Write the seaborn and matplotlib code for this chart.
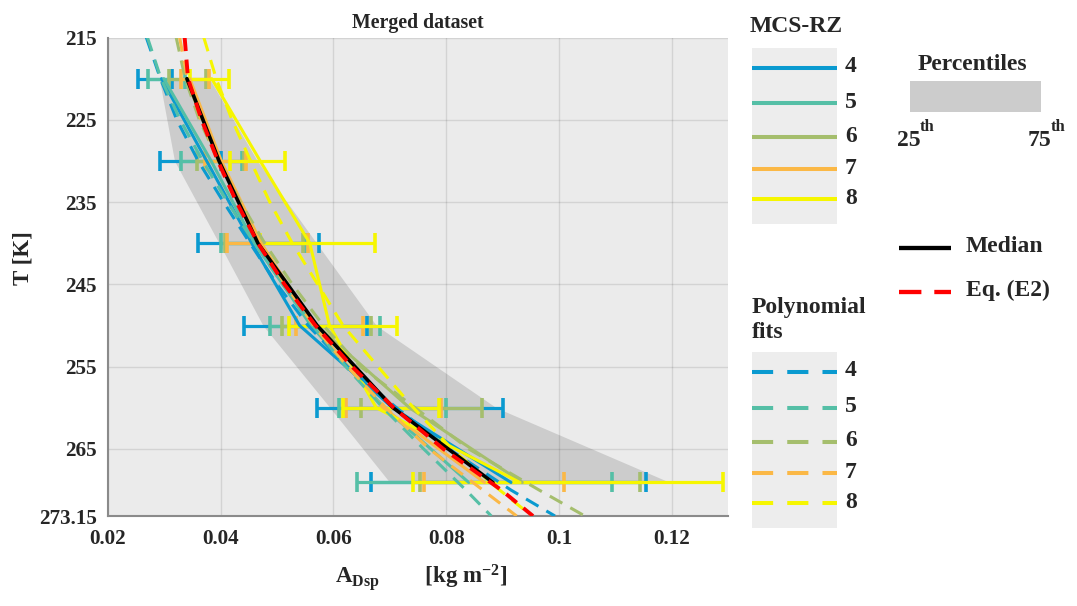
import matplotlib
matplotlib.use('Agg')
import matplotlib.pyplot as plt
import pandas as pd
import seaborn as sns
from matplotlib.patches import Rectangle

# temperature bin centres [K] and grid used for the fitted curves
T_bins = [220, 230, 240, 250, 260, 269.075]
T_fit = [215, 220, 225, 230, 235, 240, 245, 250, 255, 260, 265, 270, 273.15]

# merged dataset: 25th / 75th percentile and median of A_Dsp [kg m-2]
p25 = [0.0291, 0.0318, 0.0397, 0.0475, 0.0594, 0.0700]
p75 = [0.0380, 0.0465, 0.0570, 0.0676, 0.0889, 0.1197]
median_all = [0.0340, 0.0397, 0.0466, 0.0571, 0.0706, 0.0883]
eq_e2 = [0.0336, 0.0342, 0.0366, 0.0395, 0.0428, 0.0466, 0.0513, 0.0568, 0.0633, 0.0707, 0.0795, 0.0898, 0.0954]

zones = ['4', '5', '6', '7', '8']
zone_colors = ['#0A9AD0', '#55BFA6', '#A5BE6D', '#FBB846', '#F6F600']

# per MCS-RZ medians
med_rz4 = [0.0295, 0.0375, 0.0455, 0.0540, 0.0705, 0.0915]
med_rz5 = [0.0299, 0.0383, 0.0460, 0.0560, 0.0690, 0.0840]
med_rz6 = [0.0338, 0.0398, 0.0468, 0.0570, 0.0735, 0.0935]
med_rz7 = [0.0345, 0.0401, 0.0472, 0.0565, 0.0688, 0.0868]
med_rz8 = [0.0384, 0.0470, 0.0558, 0.0593, 0.0676, 0.0931]

# error bar limits per MCS-RZ
lo_rz4 = [0.0253, 0.0292, 0.0360, 0.0441, 0.0570, 0.0667]
hi_rz4 = [0.0314, 0.0400, 0.0574, 0.0660, 0.0901, 0.1154]
lo_rz5 = [0.0271, 0.0330, 0.0401, 0.0487, 0.0610, 0.0641]
hi_rz5 = [0.0336, 0.0437, 0.0550, 0.0683, 0.0800, 0.1094]
lo_rz6 = [0.0308, 0.0358, 0.0407, 0.0508, 0.0648, 0.0753]
hi_rz6 = [0.0373, 0.0441, 0.0546, 0.0667, 0.0863, 0.1144]
lo_rz7 = [0.0330, 0.0372, 0.0411, 0.0533, 0.0622, 0.0760]
hi_rz7 = [0.0380, 0.0444, 0.0554, 0.0653, 0.0790, 0.1009]
lo_rz8 = [0.0345, 0.0416, 0.0470, 0.0521, 0.0617, 0.0741]
hi_rz8 = [0.0415, 0.0514, 0.0673, 0.0712, 0.0787, 0.1291]

# polynomial fits per MCS-RZ on T_fit
fit_rz4 = [0.0268, 0.0293, 0.0322, 0.0360, 0.0405, 0.0452, 0.0500, 0.0555, 0.0625, 0.0712, 0.0805, 0.0915, 0.0993]
fit_rz5 = [0.0270, 0.0294, 0.0328, 0.0368, 0.0412, 0.0460, 0.0510, 0.0563, 0.0622, 0.0688, 0.0760, 0.0835, 0.0880]
fit_rz6 = [0.0321, 0.0337, 0.0362, 0.0396, 0.0435, 0.0478, 0.0527, 0.0582, 0.0648, 0.0745, 0.0840, 0.0965, 0.1046]
fit_rz7 = [0.0327, 0.0341, 0.0365, 0.0397, 0.0433, 0.0470, 0.0514, 0.0565, 0.0625, 0.0693, 0.0770, 0.0865, 0.0925]
fit_rz8 = [0.0370, 0.0392, 0.0420, 0.0453, 0.0487, 0.0527, 0.0572, 0.0617, 0.0679, 0.0742, 0.0810, 0.0895, 0.0952]

yticks = [215, 225, 235, 245, 255, 265, 273.15]
ytick_labels = ['215', '225', '235', '245', '255', '265', '273.15']
xticks = [0.02, 0.04, 0.06, 0.08, 0.1, 0.12]
xtick_labels = ['0.02', '0.04', '0.06', '0.08', '0.1', '0.12']

meds = [med_rz4, med_rz5, med_rz6, med_rz7, med_rz8]
los = [lo_rz4, lo_rz5, lo_rz6, lo_rz7, lo_rz8]
his = [hi_rz4, hi_rz5, hi_rz6, hi_rz7, hi_rz8]
fits = [fit_rz4, fit_rz5, fit_rz6, fit_rz7, fit_rz8]

sns.set_style('white')
plt.rcParams['font.family'] = ['Liberation Serif', 'DejaVu Serif']
plt.rcParams['font.weight'] = 'bold'
plt.rcParams['mathtext.fontset'] = 'custom'
plt.rcParams['mathtext.rm'] = 'Liberation Serif:bold'
plt.rcParams['mathtext.it'] = 'Liberation Serif:bold'
plt.rcParams['mathtext.bf'] = 'Liberation Serif:bold'

W, H = 1077, 606
fig = plt.figure(figsize=(W / 100, H / 100), dpi=100)
ax = fig.add_axes([108 / W, 1 - 516 / H, 620 / W, 478.5 / H])
ax.set_facecolor('#EBEBEB')

# percentile band
ax.fill_betweenx(T_bins, p25, p75, color='#CCCCCC', lw=0, zorder=1)

# error bars per zone
for lo, hi, c in zip(los, his, zone_colors):
    mid = [(a + b) / 2 for a, b in zip(lo, hi)]
    err = [(b - a) / 2 for a, b in zip(lo, hi)]
    ax.errorbar(mid, T_bins, xerr=err, fmt='none', ecolor=c, elinewidth=2.3,
                capsize=7.5, capthick=2.6, zorder=2)

# per-zone medians (solid)
for med, z, c in zip(meds, zones, zone_colors):
    df = pd.DataFrame({'A': med, 'T': T_bins})
    sns.lineplot(data=df, x='A', y='T', sort=False, estimator=None, color=c,
                 lw=2.2, ax=ax, legend=False, zorder=3)

# polynomial fits (dashed)
for fit, c in zip(fits, zone_colors):
    df = pd.DataFrame({'A': fit, 'T': T_fit})
    sns.lineplot(data=df, x='A', y='T', sort=False, estimator=None, color=c,
                 lw=2.2, linestyle=(0, (4.7, 3)), ax=ax, legend=False, zorder=4)

df_med = pd.DataFrame({'A': median_all, 'T': T_bins})
sns.lineplot(data=df_med, x='A', y='T', sort=False, estimator=None, color='black',
             lw=2.6, ax=ax, legend=False, zorder=5)
df_e2 = pd.DataFrame({'A': eq_e2, 'T': T_fit})
sns.lineplot(data=df_e2, x='A', y='T', sort=False, estimator=None, color='red',
             lw=2.8, linestyle=(0, (3.5, 2.2)), ax=ax, legend=False, zorder=6)

ax.set_xlim(0.02, 0.13)
ax.set_ylim(273.15, 215)
ax.set_xticks(xticks, xtick_labels)
ax.set_yticks(yticks, ytick_labels)
ax.grid(True, color='black', alpha=0.1, lw=1)
ax.set_axisbelow('line')
ax.tick_params(direction='in', length=6, width=1, color='#707070', labelsize=15.2)
ax.tick_params(axis='y', pad=8)
ax.tick_params(axis='x', pad=9)
for s in ['top', 'right']:
    ax.spines[s].set_visible(False)
for s in ['left', 'bottom']:
    ax.spines[s].set_color('#8A8A8A')
    ax.spines[s].set_linewidth(1.5)
ax.set_title('Merged dataset', fontsize=14.3, fontweight='bold', pad=7)
ax.set_ylabel('T [K]', fontsize=16.5, fontweight='bold')
ax.yaxis.set_label_coords(-74 / 620, 0.54)
ax.set_xlabel(r'$\mathregular{A_{Dsp}}$        [kg m$^{\mathregular{-2}}$]', fontsize=16.5,
              fontweight='bold')
ax.xaxis.set_label_coords(0.505, -46 / 478.5)

# legends drawn in figure pixel coordinates
lax = fig.add_axes([0, 0, 1, 1], zorder=10)
lax.set_xlim(0, W)
lax.set_ylim(H, 0)
lax.axis('off')
fs = 17

lax.text(750, 26, 'MCS-RZ', fontsize=fs, fontweight='bold', va='center', ha='left')
lax.add_patch(Rectangle((752, 48), 85, 176, color='#EDEDED', lw=0))
leg_y = [68, 103, 137, 169, 199]
for y, z, c in zip(leg_y, zones, zone_colors):
    lax.plot([752, 837], [y, y], color=c, lw=2.9, solid_capstyle='butt')
    lax.text(845, y - 1, z, fontsize=fs, fontweight='bold', va='center', ha='left')

lax.text(752, 308, 'Polynomial', fontsize=fs, fontweight='bold', va='center', ha='left')
lax.text(752, 333, 'fits', fontsize=fs, fontweight='bold', va='center', ha='left')
lax.add_patch(Rectangle((752, 352), 85, 176, color='#EDEDED', lw=0))
fit_y = [372, 408, 442, 473, 503]
for y, z, c in zip(fit_y, zones, zone_colors):
    lax.plot([752, 837], [y, y], color=c, lw=2.9, linestyle=(0, (5.25, 3.5)),
             dash_capstyle='butt')
    lax.text(845, y - 1, z, fontsize=fs, fontweight='bold', va='center', ha='left')

lax.text(972, 64, 'Percentiles', fontsize=fs, fontweight='bold', va='center', ha='center')
lax.add_patch(Rectangle((910, 81), 131, 31, color='#CCCCCC', lw=0))
lax.text(897, 140, '25', fontsize=fs, fontweight='bold', va='center', ha='left')
lax.text(920, 127, 'th', fontsize=12, fontweight='bold', va='center', ha='left')
lax.text(1028, 140, '75', fontsize=fs, fontweight='bold', va='center', ha='left')
lax.text(1051, 127, 'th', fontsize=12, fontweight='bold', va='center', ha='left')

lax.plot([899, 951], [248, 248], color='black', lw=3.1, solid_capstyle='butt')
lax.text(966, 246, 'Median', fontsize=fs, fontweight='bold', va='center', ha='left')
lax.plot([899, 951], [292, 292], color='red', lw=3.1, linestyle=(0, (5.2, 3.0)),
         dash_capstyle='butt')
lax.text(966, 290, 'Eq. (E2)', fontsize=fs, fontweight='bold', va='center', ha='left')

fig.savefig('out.png', dpi=100)
